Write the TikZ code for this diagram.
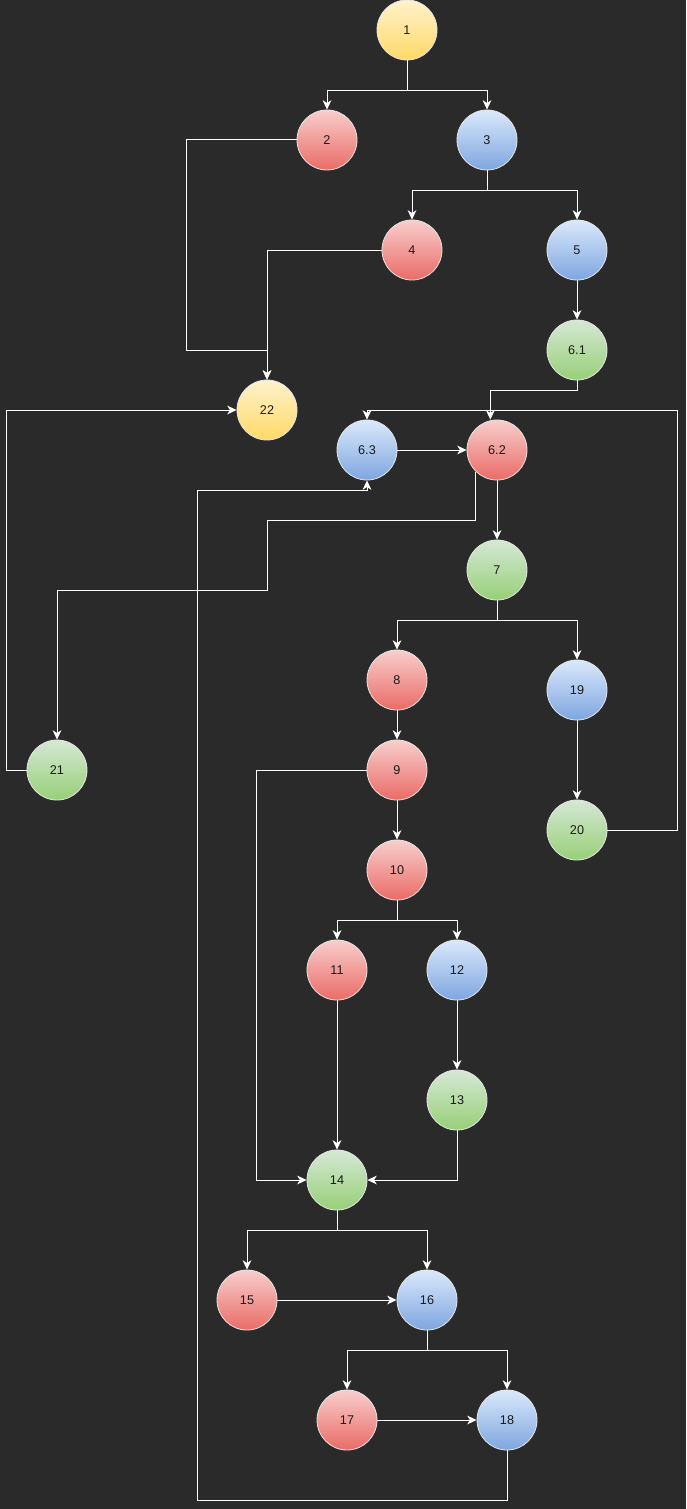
\documentclass[tikz,border=0pt]{standalone}
\usepackage{fontspec}
\setmainfont{Liberation Sans}
\usetikzlibrary{arrows.meta}

\definecolor{bg}{HTML}{2A2A2A}
\definecolor{yltop}{HTML}{FFF2CC}
\definecolor{ylbot}{HTML}{FFD966}
\definecolor{rdtop}{HTML}{F8CECC}
\definecolor{rdbot}{HTML}{EA6B66}
\definecolor{bltop}{HTML}{DAE8FC}
\definecolor{blbot}{HTML}{7EA6E0}
\definecolor{grtop}{HTML}{D5E8D4}
\definecolor{grbot}{HTML}{97D077}
\definecolor{txt}{HTML}{1A1A1A}

\tikzset{
  ball/.style={circle, draw=white!90!black, line width=0.6pt, minimum size=45pt, inner sep=0pt, font=\fontsize{9.5}{10}\selectfont, text=txt},
  yellowball/.style={ball, top color=yltop, bottom color=ylbot},
  redball/.style={ball, top color=rdtop, bottom color=rdbot},
  blueball/.style={ball, top color=bltop, bottom color=blbot},
  greenball/.style={ball, top color=grtop, bottom color=grbot},
  arr/.style={draw=white, line width=0.75pt, -{Stealth[length=7pt,width=6.5pt,inset=2pt]}}
}

\begin{document}
\begin{tikzpicture}[x=0.75pt, y=-0.75pt]
\fill [bg] (0,0) rectangle (686,1509);
\useasboundingbox (0,0) rectangle (686,1509);

\node [yellowball] (n1) at (407,30) {1};
\node [redball] (n2) at (327,140) {2};
\node [blueball] (n3) at (487,140) {3};
\node [redball] (n4) at (412,250) {4};
\node [blueball] (n5) at (577,250) {5};
\node [greenball] (n61) at (577,350) {6.1};
\node [yellowball] (n22) at (267,410) {22};
\node [blueball] (n63) at (367,450) {6.3};
\node [redball] (n62) at (497,450) {6.2};
\node [greenball] (n7) at (497,570) {7};
\node [redball] (n8) at (397,680) {8};
\node [blueball] (n19) at (577,690) {19};
\node [redball] (n9) at (397,770) {9};
\node [greenball] (n21) at (57,770) {21};
\node [greenball] (n20) at (577,830) {20};
\node [redball] (n10) at (397,870) {10};
\node [redball] (n11) at (337,970) {11};
\node [blueball] (n12) at (457,970) {12};
\node [greenball] (n13) at (457,1100) {13};
\node [greenball] (n14) at (337,1180) {14};
\node [redball] (n15) at (247,1300) {15};
\node [blueball] (n16) at (427,1300) {16};
\node [redball] (n17) at (347,1420) {17};
\node [blueball] (n18) at (507,1420) {18};

\draw [arr] (n1.south) -- ++(0,30) -| (n2.north);
\draw [arr] (n1.south) -- ++(0,30) -| (n3.north);
\draw [arr] (n3.south) -- ++(0,20) -| (n4.north);
\draw [arr] (n3.south) -- ++(0,20) -| (n5.north);
\draw [arr] (n2.west) -- ++(-110,0) -- ++(0,210) -| (n22.north);
\draw [arr] (n4.west) -| (n22.north);
\draw [arr] (n5) -- (n61);
\draw [arr] (n61.south) -- ++(0,10) -| ([xshift=-5pt]n62.north);

\draw [arr] (n63) -- (n62);
\draw [arr] (n20.east) -- ++(70,0) -- ++(0,-420) -| (n63.north);
\draw [arr] (n62.south west) |- (267,520) |- (57,590) -- (n21.north);
\draw [arr] (n21.west) -- ++(-20,0) |- (n22.west);
\draw [arr] (n18.south) -- ++(0,50) -| (197,490) -| (n63.south);
\draw [arr] (n62) -- (n7);

\draw [arr] (n7.south) -- ++(0,20) -| (n8.north);
\draw [arr] (n7.south) -- ++(0,20) -| (n19.north);
\draw [arr] (n8) -- (n9);
\draw [arr] (n19) -- (n20);
\draw [arr] (n9) -- (n10);
\draw [arr] (n9.west) -- ++(-110,0) |- (n14.west);

\draw [arr] (n10.south) -- ++(0,20) -| (n11.north);
\draw [arr] (n10.south) -- ++(0,20) -| (n12.north);
\draw [arr] (n11) -- (n14);
\draw [arr] (n12) -- (n13);
\draw [arr] (n13.south) |- (n14.east);

\draw [arr] (n14.south) -- ++(0,20) -| (n15.north);
\draw [arr] (n14.south) -- ++(0,20) -| (n16.north);
\draw [arr] (n15) -- (n16);
\draw [arr] (n16.south) -- ++(0,20) -| (n17.north);
\draw [arr] (n16.south) -- ++(0,20) -| (n18.north);
\draw [arr] (n17) -- (n18);
\end{tikzpicture}
\end{document}
